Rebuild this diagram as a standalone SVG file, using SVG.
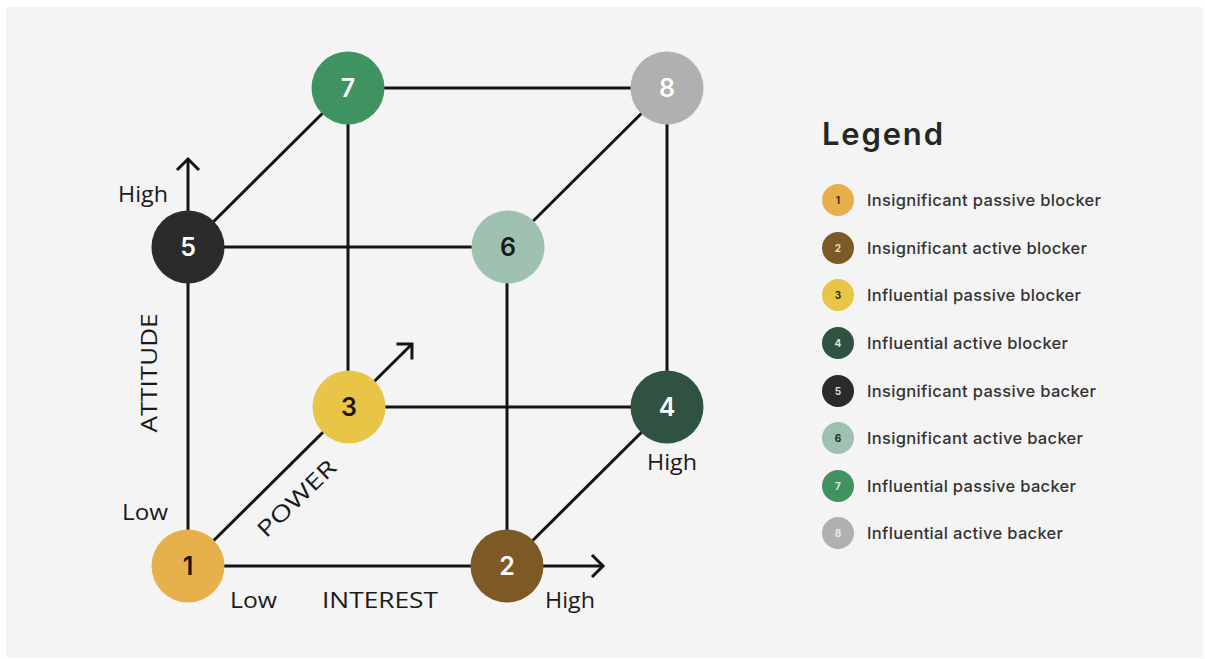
<svg xmlns="http://www.w3.org/2000/svg" width="1205" height="659" viewBox="0 0 1205 659">
<defs>
<style>
.edge{stroke:#141414;stroke-width:3;fill:none;stroke-linecap:butt}
.node-num{font-family:Inter,"Noto Sans",sans-serif;font-size:25px;font-weight:600;text-anchor:middle}
.lbl{font-family:"Open Sans",Lato,sans-serif;font-size:21px;font-weight:500;fill:#1a1a1a}
.axis{font-family:"Open Sans",Lato,sans-serif;font-size:22px;font-weight:500;fill:#1a1a1a}
.leg{font-family:Inter,"Noto Sans",sans-serif;font-size:16.5px;font-weight:500;fill:#333}
.legnum{font-family:Inter,"Noto Sans",sans-serif;font-size:10px;font-weight:700;text-anchor:middle}
</style>
<marker id="chev" markerUnits="userSpaceOnUse" viewBox="0 0 24 24" refX="22" refY="12" markerWidth="24" markerHeight="24" orient="auto" overflow="visible">
<path d="M11,1 L22,12 L11,23" fill="none" stroke="#141414" stroke-width="3" stroke-linejoin="miter"/>
</marker>
</defs>
<rect x="0" y="0" width="1205" height="659" fill="#ffffff"/>
<rect x="6" y="7" width="1197" height="651" rx="3" fill="#f4f4f4"/>

<g id="connectors">
<line class="edge" x1="188" y1="566" x2="603" y2="566" marker-end="url(#chev)"/>
<line class="edge" x1="188" y1="566" x2="188" y2="159" marker-end="url(#chev)"/>
<line class="edge" x1="188" y1="566" x2="412" y2="344" marker-end="url(#chev)"/>
<line class="edge" x1="507" y1="566" x2="667" y2="407"/>
<line class="edge" x1="507" y1="566" x2="507" y2="247"/>
<line class="edge" x1="349" y1="407" x2="667" y2="407"/>
<line class="edge" x1="348" y1="407" x2="348" y2="88"/>
<line class="edge" x1="667" y1="407" x2="667" y2="88"/>
<line class="edge" x1="188" y1="247" x2="507" y2="247"/>
<line class="edge" x1="188" y1="247" x2="348" y2="88"/>
<line class="edge" x1="507" y1="247" x2="667" y2="88"/>
<line class="edge" x1="348" y1="88" x2="667" y2="88"/>
</g>

<g id="node-1"><circle cx="188" cy="566" r="36.5" fill="#e8b04a"/><text class="node-num" x="188" y="575" fill="#1a1a1a">1</text></g>
<g id="node-2"><circle cx="507" cy="566" r="36.5" fill="#7d5a25"/><text class="node-num" x="507" y="575" fill="#ffffff">2</text></g>
<g id="node-3"><circle cx="349" cy="407" r="36.5" fill="#e8c547"/><text class="node-num" x="349" y="416" fill="#1a1a1a">3</text></g>
<g id="node-4"><circle cx="667" cy="407" r="36.5" fill="#2f5340"/><text class="node-num" x="667" y="416" fill="#ffffff">4</text></g>
<g id="node-5"><circle cx="188" cy="247" r="36.5" fill="#2b2b2b"/><text class="node-num" x="188" y="256" fill="#ffffff">5</text></g>
<g id="node-6"><circle cx="508" cy="247" r="36.5" fill="#9ec2af"/><text class="node-num" x="508" y="256" fill="#1a1a1a">6</text></g>
<g id="node-7"><circle cx="348" cy="88" r="36.5" fill="#3e9360"/><text class="node-num" x="348" y="97" fill="#ffffff">7</text></g>
<g id="node-8"><circle cx="667" cy="88" r="36.5" fill="#b0b0b0"/><text class="node-num" x="667" y="97" fill="#ffffff">8</text></g>

<g id="axis-labels">
<text class="lbl" x="118" y="202" textLength="50" lengthAdjust="spacingAndGlyphs">High</text>
<text class="lbl" x="122" y="520" textLength="46" lengthAdjust="spacingAndGlyphs">Low</text>
<text class="lbl" x="230" y="608" textLength="47" lengthAdjust="spacingAndGlyphs">Low</text>
<text class="lbl" x="545" y="608" textLength="50" lengthAdjust="spacingAndGlyphs">High</text>
<text class="lbl" x="647" y="470" textLength="50" lengthAdjust="spacingAndGlyphs">High</text>
<text class="axis" x="322" y="608" textLength="116" lengthAdjust="spacingAndGlyphs">INTEREST</text>
<text class="axis" transform="translate(157,373) rotate(-90)" text-anchor="middle" textLength="119" lengthAdjust="spacingAndGlyphs">ATTITUDE</text>
<text class="axis" transform="translate(302,504) rotate(-44)" text-anchor="middle" textLength="100" lengthAdjust="spacingAndGlyphs">POWER</text>
</g>

<g id="legend">
<text x="822" y="145" font-family="Inter, 'Noto Sans', sans-serif" font-size="31" font-weight="600" fill="#262626" textLength="121">Legend</text>
<g id="legend-1"><circle cx="838" cy="200" r="16" fill="#e8b04a"/><text class="legnum" x="838" y="204" fill="#3a2a10">1</text><text class="leg" x="867" y="206" textLength="234">Insignificant passive blocker</text></g>
<g id="legend-2"><circle cx="838" cy="248" r="16" fill="#7d5a25"/><text class="legnum" x="838" y="252" fill="#e8dcc8">2</text><text class="leg" x="867" y="254" textLength="220">Insignificant active blocker</text></g>
<g id="legend-3"><circle cx="838" cy="295" r="16" fill="#e8c547"/><text class="legnum" x="838" y="299" fill="#3a2a10">3</text><text class="leg" x="867" y="301" textLength="214">Influential passive blocker</text></g>
<g id="legend-4"><circle cx="838" cy="343" r="16" fill="#2f5340"/><text class="legnum" x="838" y="347" fill="#d8e4dc">4</text><text class="leg" x="867" y="349" textLength="201">Influential active blocker</text></g>
<g id="legend-5"><circle cx="838" cy="391" r="16" fill="#2b2b2b"/><text class="legnum" x="838" y="395" fill="#dddddd">5</text><text class="leg" x="867" y="397" textLength="229">Insignificant passive backer</text></g>
<g id="legend-6"><circle cx="838" cy="438" r="16" fill="#9ec2af"/><text class="legnum" x="838" y="442" fill="#1a2a20">6</text><text class="leg" x="867" y="444" textLength="216">Insignificant active backer</text></g>
<g id="legend-7"><circle cx="838" cy="486" r="16" fill="#3e9360"/><text class="legnum" x="838" y="490" fill="#d8ecdf">7</text><text class="leg" x="867" y="492" textLength="209">Influential passive backer</text></g>
<g id="legend-8"><circle cx="838" cy="533" r="16" fill="#b0b0b0"/><text class="legnum" x="838" y="537" fill="#e8e8e8">8</text><text class="leg" x="867" y="539" textLength="196">Influential active backer</text></g>
</g>
</svg>
